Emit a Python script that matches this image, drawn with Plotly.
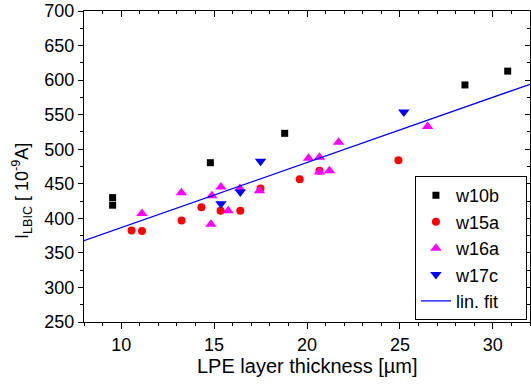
import plotly.graph_objects as go

# ---- data ----
w10b_x = [9.54, 9.54, 14.8, 18.8, 28.5, 30.8]
w10b_y = [430, 419, 480.5, 523, 593, 613]

w15a_x = [10.56, 11.12, 13.25, 14.32, 15.35, 16.41, 17.5, 19.61, 20.67, 24.92]
w15a_y = [382.5, 381.5, 397, 416, 411, 411, 443, 456.5, 469, 484]

w16a_x = [11.12, 13.24, 14.83, 14.88, 15.37, 15.76, 16.39, 17.44, 20.08, 20.67, 20.67, 21.21, 21.7, 26.49]
w16a_y = [407, 437, 391.5, 432.5, 445.5, 411, 443, 440, 487, 488.5, 467, 469, 510, 533]

w17c_x = [15.37, 16.41, 17.5, 25.21]
w17c_y = [421, 438, 482.5, 554]

fit_x = [8, 32]
fit_y = [367.6, 594]

x_range = [8, 32]
y_range = [250, 700]

FONT = "Liberation Sans, Arial, sans-serif"
PAD = "\u00a0" * 4  # widen legend box a little

fig = go.Figure()
fig.add_trace(go.Scatter(x=w10b_x, y=w10b_y, mode="markers", name="w10b" + PAD,
                         marker=dict(symbol="square", size=7, color="#000000")))
fig.add_trace(go.Scatter(x=w15a_x, y=w15a_y, mode="markers", name="w15a",
                         marker=dict(symbol="circle", size=8, color="#ff0000")))
fig.add_trace(go.Scatter(x=w16a_x, y=w16a_y, mode="markers", name="w16a",
                         marker=dict(symbol="triangle-up", size=10, color="#ff00ff")))
fig.add_trace(go.Scatter(x=w17c_x, y=w17c_y, mode="markers", name="w17c",
                         marker=dict(symbol="triangle-down", size=10, color="#0000ff")))
fig.add_trace(go.Scatter(x=fit_x, y=fit_y, mode="lines", name="lin. fit",
                         line=dict(color="#0000ff", width=1.3)))
# empty trace to create the mirrored top/right axes (inside ticks)
fig.add_trace(go.Scatter(x=[None], y=[None], xaxis="x2", yaxis="y2", showlegend=False,
                         hoverinfo="skip"))

axis_common = dict(showgrid=False, zeroline=False, showline=True, linecolor="black",
                   linewidth=1, tickcolor="black", tickwidth=1, automargin=False)

fig.update_layout(
    template="none",
    width=531, height=387,
    margin=dict(l=84, r=1, t=11, b=65, pad=0),
    paper_bgcolor="white", plot_bgcolor="white",
    font=dict(family=FONT, size=18, color="black"),
    showlegend=True,
    legend=dict(x=0.742, y=0.469, xanchor="left", yanchor="top",
                bgcolor="white", bordercolor="black", borderwidth=1,
                font=dict(family=FONT, size=18, color="black"),
                tracegroupgap=0),
    xaxis=dict(range=x_range, dtick=5, tick0=0, ticks="outside", ticklen=6,
               minor=dict(dtick=1, ticks="outside", ticklen=3, tickcolor="black"),
               tickfont=dict(family=FONT, size=18),
               **axis_common),
    yaxis=dict(range=y_range, dtick=50, tick0=0, ticks="outside", ticklen=5,
               minor=dict(dtick=25, ticks="outside", ticklen=3, tickcolor="black"),
               tickfont=dict(family=FONT, size=18),
               **axis_common),
    xaxis2=dict(range=x_range, overlaying="x", side="top", dtick=5, tick0=0,
                ticks="inside", ticklen=6, showticklabels=False,
                minor=dict(dtick=1, ticks="inside", ticklen=3, tickcolor="black"),
                **axis_common),
    yaxis2=dict(range=y_range, overlaying="y", side="right", dtick=50, tick0=0,
                ticks="inside", ticklen=5, showticklabels=False,
                minor=dict(dtick=25, ticks="inside", ticklen=3, tickcolor="black"),
                **axis_common),
    annotations=[
        dict(text="I<sub>LBIC</sub> [ 10<sup>-9</sup>A]", textangle=-90,
             xref="paper", yref="paper", x=-0.14, y=0.42,
             xanchor="center", yanchor="middle", showarrow=False,
             font=dict(family=FONT, size=18, color="black")),
        dict(text="LPE layer thickness [µm]",
             xref="paper", yref="paper", x=0.5, y=-0.142,
             xanchor="center", yanchor="middle", showarrow=False,
             font=dict(family=FONT, size=20, color="black")),
    ],
)

fig.write_html("out.html", config=dict(displayModeBar=False),
               post_script="document.body.style.margin='0';document.body.style.overflow='hidden';")
